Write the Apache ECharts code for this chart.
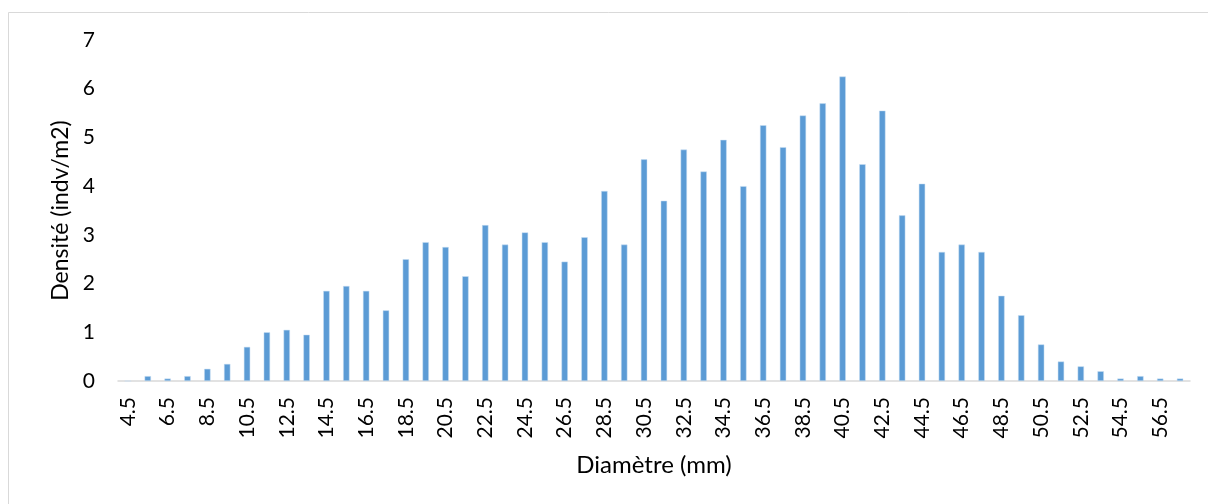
<!DOCTYPE html>
<html>
<head>
<meta charset="utf-8">
<script src="https://cdn.jsdelivr.net/npm/echarts@6/dist/echarts.min.js"></script>
<style>
  html, body { margin: 0; padding: 0; background: #fff; }
  #chart { width: 1208px; height: 504px; }
</style>
</head>
<body>
<div id="chart"></div>
<script>
// Classes de diamètre (mm)
const diametres = [
  '4.5', '5.5', '6.5', '7.5', '8.5', '9.5', '10.5', '11.5', '12.5', '13.5',
  '14.5', '15.5', '16.5', '17.5', '18.5', '19.5', '20.5', '21.5', '22.5', '23.5',
  '24.5', '25.5', '26.5', '27.5', '28.5', '29.5', '30.5', '31.5', '32.5', '33.5',
  '34.5', '35.5', '36.5', '37.5', '38.5', '39.5', '40.5', '41.5', '42.5', '43.5',
  '44.5', '45.5', '46.5', '47.5', '48.5', '49.5', '50.5', '51.5', '52.5', '53.5',
  '54.5', '55.5', '56.5', '57.5'
];

// Densité (indv/m2)
const densite = [
  0, 0.1, 0.05, 0.1, 0.25, 0.35, 0.7, 1.0, 1.05, 0.95,
  1.85, 1.95, 1.85, 1.45, 2.5, 2.85, 2.75, 2.15, 3.2, 2.8,
  3.05, 2.85, 2.45, 2.95, 3.9, 2.8, 4.55, 3.7, 4.75, 4.3,
  4.95, 4.0, 5.25, 4.8, 5.45, 5.7, 6.25, 4.45, 5.55, 3.4,
  4.05, 2.65, 2.8, 2.65, 1.75, 1.35, 0.75, 0.4, 0.3, 0.2,
  0.05, 0.1, 0.05, 0.05
];

const font = 'Lato, "Open Sans", sans-serif';

const chart = echarts.init(document.getElementById('chart'), null, { renderer: 'canvas' });
chart.setOption({
  backgroundColor: '#ffffff',
  animation: false,
  graphic: [{
    type: 'rect',
    shape: { x: 8.5, y: 12.5, width: 1300, height: 600 },
    style: { fill: 'none', stroke: '#d9d9d9', lineWidth: 1 },
    silent: true
  }],
  grid: { left: 118, right: 18, top: 40, bottom: 123 },
  xAxis: {
    type: 'category',
    data: diametres,
    name: 'Diamètre (mm)',
    nameLocation: 'middle',
    nameGap: 72,
    nameTextStyle: { fontFamily: font, fontSize: 24, color: '#000' },
    axisLine: { lineStyle: { color: '#d9d9d9', width: 1.5 } },
    axisTick: { show: false },
    axisLabel: {
      interval: 1,
      rotate: 90,
      margin: 16,
      fontFamily: font,
      fontSize: 21,
      color: '#000'
    }
  },
  yAxis: {
    type: 'value',
    min: 0,
    max: 7,
    interval: 1,
    name: 'Densité (indv/m2)',
    nameLocation: 'middle',
    nameGap: 44,
    nameTextStyle: { fontFamily: font, fontSize: 23, color: '#000' },
    axisLine: { show: false },
    axisTick: { show: false },
    splitLine: { show: false },
    axisLabel: { margin: 23, fontFamily: font, fontSize: 21, color: '#000' }
  },
  series: [{
    type: 'bar',
    data: densite,
    barWidth: '32%',
    itemStyle: { color: '#5b9bd5', borderColor: '#c9def2', borderWidth: 0.5 }
  }]
});
</script>
</body>
</html>
